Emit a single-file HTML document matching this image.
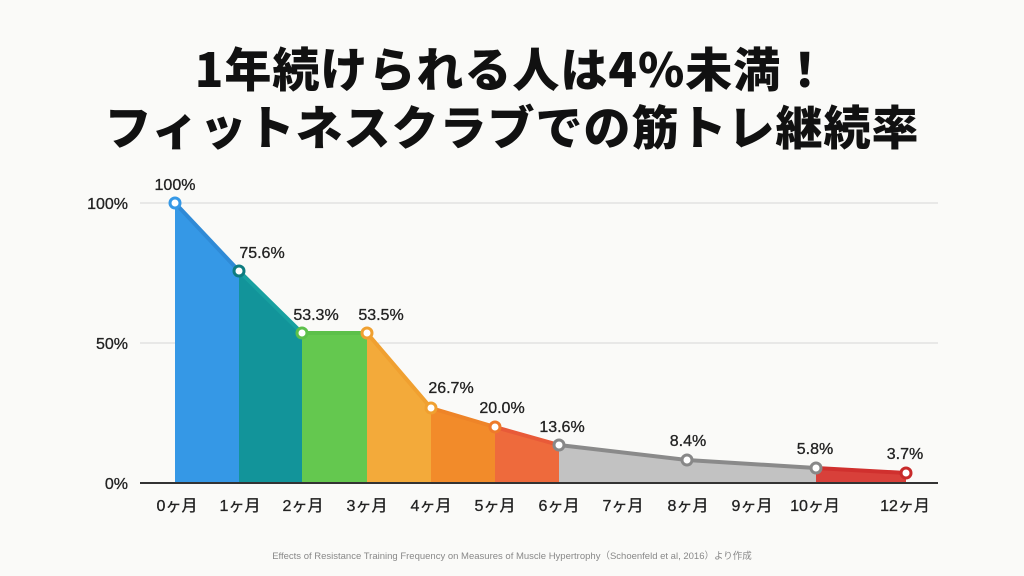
<!DOCTYPE html>
<html><head><meta charset="utf-8"><style>
html,body{margin:0;padding:0;background:#fafaf8;}
body{width:1024px;height:576px;overflow:hidden;position:relative;font-family:"Liberation Sans","Noto Sans CJK JP",sans-serif;}
.t{position:absolute;left:0;width:1024px;text-align:center;font-weight:900;color:#111;font-size:47px;letter-spacing:1px;font-family:"Noto Sans CJK JP","Liberation Sans",sans-serif;}
</style></head><body>
<div class="t" style="top:32px;">1年続けられる人は4%未満！</div>
<div class="t" style="top:90px;">フィットネスクラブでの筋トレ継続率</div>
<svg width="1024" height="576" style="position:absolute;left:0;top:0" font-family="Liberation Sans, Noto Sans CJK JP, sans-serif">
<line x1="140" y1="203" x2="938" y2="203" stroke="#d6d6d6" stroke-width="1"/>
<line x1="140" y1="343" x2="938" y2="343" stroke="#d6d6d6" stroke-width="1"/>
<polygon points="175,203 239,271 239,483 175,483" fill="#3598e6"/>
<polygon points="239,271 302,333 302,483 239,483" fill="#12949a"/>
<polygon points="302,333 367,333 367,483 302,483" fill="#64c84f"/>
<polygon points="367,333 431,408 431,483 367,483" fill="#f3aa3a"/>
<polygon points="431,408 495,427 495,483 431,483" fill="#f28b2a"/>
<polygon points="495,427 559,445 559,483 495,483" fill="#ee6a3c"/>
<polygon points="559,445 687,460 816,468 816,483 559,483" fill="#c2c2c2"/>
<polygon points="816,468 906,473 906,483 816,483" fill="#d8403a"/>
<g fill="none" stroke-width="4" stroke-linecap="round">
<line x1="175" y1="203" x2="239" y2="271" stroke="#2f8ad6"/>
<line x1="239" y1="271" x2="302" y2="333" stroke="#18a0a0"/>
<line x1="302" y1="333" x2="367" y2="333" stroke="#5cc04a"/>
<line x1="367" y1="333" x2="431" y2="408" stroke="#f0a030"/>
<line x1="431" y1="408" x2="495" y2="427" stroke="#ee8428"/>
<line x1="495" y1="427" x2="559" y2="445" stroke="#e85a38"/>
<polyline points="559,445 687,460 816,468" stroke="#8a8a8a"/>
<line x1="816" y1="468" x2="906" y2="473" stroke="#d0302e"/>
</g>
<line x1="140" y1="483" x2="938" y2="483" stroke="#333" stroke-width="2"/>
<g fill="#fff" stroke-width="3">
<circle cx="175" cy="203" r="5" stroke="#3598e6"/>
<circle cx="239" cy="271" r="5" stroke="#0e7c80"/>
<circle cx="302" cy="333" r="5" stroke="#5cc04a"/>
<circle cx="367" cy="333" r="5" stroke="#f0a030"/>
<circle cx="431" cy="408" r="5" stroke="#f0a030"/>
<circle cx="495" cy="427" r="5" stroke="#ee7a2a"/>
<circle cx="559" cy="445" r="5" stroke="#888"/>
<circle cx="687" cy="460" r="5" stroke="#888"/>
<circle cx="816" cy="468" r="5" stroke="#888"/>
<circle cx="906" cy="473" r="5" stroke="#c82a2a"/>
</g>
<g font-size="16" fill="#222" text-anchor="middle" stroke="#222" stroke-width="0.3">
<text x="175" y="190">100%</text>
<text x="262" y="258">75.6%</text>
<text x="316" y="320">53.3%</text>
<text x="381" y="320">53.5%</text>
<text x="451" y="393">26.7%</text>
<text x="502" y="413">20.0%</text>
<text x="562" y="432">13.6%</text>
<text x="688" y="446">8.4%</text>
<text x="815" y="454">5.8%</text>
<text x="905" y="459">3.7%</text>
</g>
<g font-size="16" fill="#222" text-anchor="end" stroke="#222" stroke-width="0.3">
<text x="128" y="209">100%</text>
<text x="128" y="349">50%</text>
<text x="128" y="489">0%</text>
</g>
<g font-size="16" fill="#222" text-anchor="middle" stroke="#222" stroke-width="0.3">
<text x="177" y="511">0ヶ月</text>
<text x="240" y="511">1ヶ月</text>
<text x="303" y="511">2ヶ月</text>
<text x="367" y="511">3ヶ月</text>
<text x="431" y="511">4ヶ月</text>
<text x="495" y="511">5ヶ月</text>
<text x="559" y="511">6ヶ月</text>
<text x="623" y="511">7ヶ月</text>
<text x="688" y="511">8ヶ月</text>
<text x="752" y="511">9ヶ月</text>
<text x="815" y="511">10ヶ月</text>
<text x="905" y="511">12ヶ月</text>
</g>
<text x="512" y="559" font-size="9.5" fill="#888" text-anchor="middle">Effects of Resistance Training Frequency on Measures of Muscle Hypertrophy（Schoenfeld et al, 2016）より作成</text>
</svg>
</body></html>
